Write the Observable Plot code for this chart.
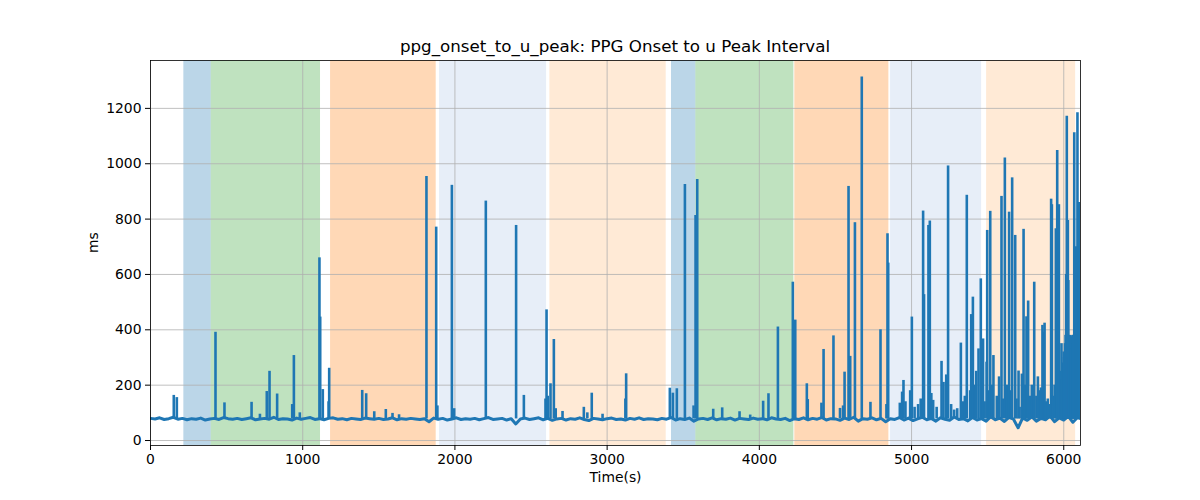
<!DOCTYPE html>
<html>
<head>
<meta charset="utf-8">
<script src="https://cdn.jsdelivr.net/npm/d3@7"></script>
<script src="https://cdn.jsdelivr.net/npm/@observablehq/plot@0.6"></script>
<style>
  html, body { margin: 0; padding: 0; background: #fff; }
  body { width: 1200px; height: 500px; overflow: hidden; font-family: "DejaVu Sans", sans-serif; }
  #title { width: 1200px; height: 56px; box-sizing: border-box; padding: 0 120px 1.4px 150px;
           display: flex; align-items: flex-end; justify-content: center;
           font-size: 16.7px; line-height: 16.7px; color: #000; }
</style>
</head>
<body>
<div id="title">ppg_onset_to_u_peak: PPG Onset to u Peak Interval</div>
<div id="chart"></div>
<script>
// ---- data ----
const titleText = "ppg_onset_to_u_peak: PPG Onset to u Peak Interval";
const xLabel = "Time(s)";
const yLabel = "ms";
const xTicks = [0, 1000, 2000, 3000, 4000, 5000, 6000];
const yTicks = [0, 200, 400, 600, 800, 1000, 1200];

// shaded phases
const bandStart = [219, 399, 1183, 1899, 2624, 3423, 3583, 4233, 4862, 5493];
const bandEnd   = [399, 1117, 1877, 2602, 3388, 3583, 4227, 4851, 5460, 6078];
const bandColor = ["#1f77b4", "#2ca02c", "#ff7f0e", "#aec7e8", "#ffbb78",
                   "#1f77b4", "#2ca02c", "#ff7f0e", "#aec7e8", "#ffbb78"];

// baseline interval, sampled every 30 s starting at 0 s
const baseStep = 30;
const baseValues = [
  80,78,82,76,79,84,77,80,75,79,
  77,81,74,78,80,76,83,79,77,80,
  76,79,82,75,78,80,77,84,76,79,
  78,74,81,77,80,83,76,79,75,80,
  82,77,79,75,80,78,76,81,79,77,
  80,76,78,82,75,79,77,80,78,76,
  79,68,81,77,80,74,78,82,76,79,
  77,80,75,79,83,76,78,80,74,79,
  60,78,81,76,79,82,75,80,73,78,
  80,74,79,77,82,76,72,80,78,75,
  79,81,76,78,74,80,77,82,76,79,
  78,75,80,77,83,74,79,76,81,70,
  78,80,76,82,75,79,77,81,74,80,
  78,76,81,77,79,75,82,78,76,80,
  72,79,76,82,75,80,77,83,74,79,
  78,73,81,76,84,70,79,77,82,75,
  80,68,79,76,83,74,81,72,78,84,
  75,80,70,82,77,73,85,76,79,71,
  83,74,79,70,86,75,81,69,84,77,
  46,82,73,86,70,80,75,88,68,82,
  74,87,66,83,78
];
const baseLevel = 78;

// artefact spikes (time s, value ms)
const spikeT = [
  153,173,427,486,664,719,764,782,832,931,942,981,1110,1115,1132,1170,1174,
  1391,1417,1470,1546,1590,1633,1813,1877,1885,1980,1995,
  2203,2402,2453,2595,2602,2610,2628,2650,2662,2707,2847,2870,2899,2970,3120,3125,
  3412,3432,3458,3511,3568,3581,3592,3697,3756,3870,3940,4025,4060,
  4122,4220,4236,4312,4318,4408,4422,4487,4530,4550,4560,4586,4597,4628,4673,4730,4796,4835,4842,4847,
  4923,4938,4947,4960,4991,5002,5020,5043,5060,5076,5082,5111,5120,5130,5142,5165,5197,5210,5228,5240,5260,5280,5300,5324,5340,5350,5363,5385,5392,5403,5415,5425,5440,5455,5470,5480,
  5493,5497,5510,5517,5530,5538,5560,5575,5591,5600,5613,5625,5641,5650,5661,5681,5690,5703,5710,5725,5736,5745,5755,5766,5780,5790,5806,5820,5830,5840,5850,5860,5866,5874,5885,5895,5905,
  5917,5922,5930,5940,5948,5952,5957,5968,5980,5985,5990,5995,
  6000,6002,6005,6008,6012,6016,6020,6024,6027,6030,6033,6036,6038,6042,6044,6046,6050,6052,6054,6058,6060,6062,6064,6066,6069,6072,6074,6076,6078,6082,6085,6088,6090,6092,6094,6097,6099,6101,6104,6106,6108,6110
];
const spikeV = [
  163,155,391,136,138,95,177,250,168,130,307,100,660,446,184,140,261,
  181,169,104,112,98,93,954,771,125,922,115,
  865,777,163,150,472,160,205,365,115,105,120,100,171,95,150,241,
  189,171,187,925,125,813,943,113,118,104,92,142,169,
  410,572,435,205,148,135,329,378,116,125,247,918,304,787,1313,138,400,130,747,641,
  135,175,217,140,180,446,120,130,150,829,527,777,793,170,145,120,286,210,237,992,130,110,115,352,140,160,886,180,455,518,200,250,331,584,367,140,
  283,759,180,828,200,307,160,230,882,150,1021,200,825,180,949,741,150,251,120,240,763,200,447,504,160,200,572,160,230,180,190,416,391,424,140,150,130,
  872,852,160,200,765,220,1048,852,250,350,220,280,
  320,300,250,350,380,600,1172,340,795,578,300,340,380,379,330,360,375,370,330,380,379,350,370,380,1112,380,400,360,420,700,380,400,1184,370,380,600,860,860,500,700,860,860
];

// ---- build tables ----
const bands = bandStart.map((s, i) => ({start: s, end: bandEnd[i], color: bandColor[i]}));
const base = baseValues.map((v, i) => ({t: i * baseStep, v}));
const spikes = spikeT.map((t, i) => ({t, v: spikeV[i]}));

const blue = "#1f77b4";
const gridColor = "#b0b0b0";

const chart = Plot.plot({
  width: 1200,
  height: 444,
  marginLeft: 150,
  marginRight: 120,
  marginTop: 4,
  marginBottom: 55,
  style: {fontFamily: "DejaVu Sans, sans-serif", fontSize: "13.9px", color: "#000", background: "#fff"},
  x: {domain: [0, 6110]},
  y: {domain: [-18, 1373]},
  marks: [
    Plot.rect(bands, {x1: "start", x2: "end", fill: "color", fillOpacity: 0.3}),
    Plot.gridX(xTicks, {stroke: gridColor, strokeOpacity: 1, strokeWidth: 0.8}),
    Plot.gridY(yTicks, {stroke: gridColor, strokeOpacity: 1, strokeWidth: 0.8}),
    Plot.line(base, {x: "t", y: "v", stroke: blue, strokeWidth: 3, clip: true}),
    Plot.ruleX(spikes, {x: "t", y1: baseLevel, y2: "v", stroke: blue, strokeWidth: 2.6, clip: true}),
    Plot.axisX({ticks: xTicks, tickSize: 5, tickPadding: 4, label: null, fontSize: 13.9, tickFormat: d => String(d)}),
    Plot.axisY({ticks: yTicks, tickSize: 5, tickPadding: 4, label: null, fontSize: 13.9, tickFormat: d => String(d)}),
    Plot.text([xLabel], {frameAnchor: "bottom", dy: 36, fontSize: 13.9}),
    Plot.text([yLabel], {frameAnchor: "left", dx: -57, rotate: -90, fontSize: 13.9}),
    Plot.frame({stroke: "#000", strokeWidth: 0.8})
  ]
});
document.getElementById("chart").appendChild(chart);
</script>
</body>
</html>
